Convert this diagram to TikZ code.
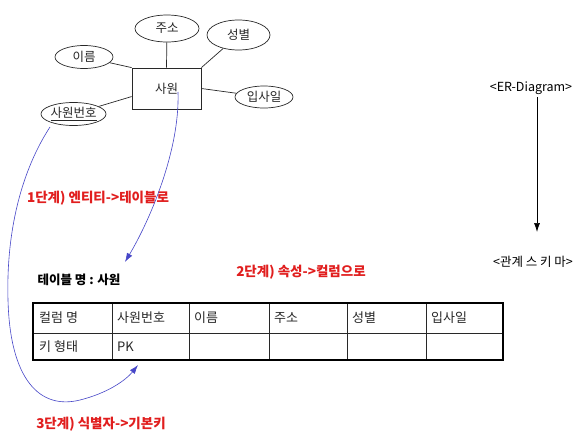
\documentclass[tikz,border=0pt]{standalone}
\usepackage{fontspec}
\setmainfont{Noto Sans CJK KR}
\usetikzlibrary{shapes.geometric,arrows.meta}
\definecolor{lblred}{RGB}{225,30,30}
\definecolor{curveblue}{RGB}{70,70,200}
\definecolor{ink}{RGB}{40,40,40}
\begin{document}
\begin{tikzpicture}[x=1pt,y=-1pt,
  attr/.style={ellipse,draw=ink,line width=0.7pt,inner sep=0pt,font=\fontsize{12.5}{14}\selectfont,text=ink},
  ent/.style={rectangle,draw=ink,line width=0.8pt,minimum width=69pt,minimum height=41pt,inner sep=0pt,font=\fontsize{12.5}{14}\selectfont,text=ink},
  conn/.style={draw=ink,line width=0.7pt},
  redlbl/.style={text=lblred,font=\bfseries\fontsize{13.5}{15}\selectfont,inner sep=0pt},
  cell/.style={anchor=west,font=\fontsize{13}{15}\selectfont,text=ink,inner sep=0pt},
  flow/.style={draw=curveblue,line width=0.6pt,-{Latex[length=9pt,width=6pt]}},
  blk/.style={font=\fontsize{12.5}{14}\selectfont,inner sep=0pt}
]
\useasboundingbox (0,0) rectangle (583,434);
\fill[white] (0,0) rectangle (583,434);

% ER diagram
\node[ent] (sawon) at (166.5,88.5) {사원};
\node[attr,minimum width=58pt,minimum height=23pt] (ireum) at (84,57) {이름};
\node[attr,minimum width=64pt,minimum height=27pt] (juso) at (167,28.5) {주소};
\node[attr,minimum width=63pt,minimum height=30pt] (seong) at (238.5,35) {성별};
\node[attr,minimum width=58pt,minimum height=22pt] (ipsa) at (264,97) {입사일};
\node[attr,minimum width=62pt,minimum height=23pt] (bunho) at (73.5,114) {\underline{사원번호}};

\draw[conn] (ireum) -- (sawon.north west);
\draw[conn] (juso) -- (sawon.north);
\draw[conn] (seong) -- (sawon.north east);
\draw[conn] (ipsa) -- (sawon.east);
\draw[conn] (bunho) -- (sawon.193);

% labels
\node[redlbl] (step1) at (98,198) {1단계) 엔티티->테이블로};
\node[blk,font=\bfseries\fontsize{12.5}{14}\selectfont] (tname) at (79,280) {테이블 명 : 사원};
\node[redlbl] (step2) at (301,272) {2단계) 속성->컬럼으로};
\node[redlbl] (step3) at (101,424) {3단계) 식별자->기본키};

% table
\coordinate (tl) at (33,303);
\coordinate (br) at (503,360);
\draw[ink,line width=0.6pt] (33,333) -- (503,333);
\foreach \x in {112,189,269,347,426} \draw[ink,line width=0.8pt] (\x,303) -- (\x,360);
\draw[black,line width=1.6pt] (tl) rectangle (br);
\node[cell] (c1) at (39,318) {컬럼 명};
\node[cell] (c2) at (117,318) {사원번호};
\node[cell] (c3) at (194,318) {이름};
\node[cell] (c4) at (274,318) {주소};
\node[cell] (c5) at (352,318) {성별};
\node[cell] (c6) at (431,318) {입사일};
\node[cell] (k1) at (39,346.5) {키 형태};
\node[cell] (k2) at (117,346.5) {PK};

% flow arrows
\coordinate (s1) at (178,92);
\coordinate (e1) at (125,262);
\draw[flow] (s1) .. controls (180,150) and (150,220) .. (e1);
\coordinate (s2) at (50,127);
\coordinate (e2) at (138,365);
\draw[flow] (s2) .. controls (22,170) and (6,230) .. (8,300)
  .. controls (10,380) and (40,410) .. (80,400)
  .. controls (108,393) and (126,380) .. (e2);

% right side
\node[blk] (er) at (531,88) {<ER-Diagram>};
\node[blk] (schema) at (533,262) {<관계 스 키 마>};
\draw[black,line width=0.7pt,-{Latex[length=9pt,width=6pt]}] (537,97) -- (537,232);
\end{tikzpicture}
\end{document}
